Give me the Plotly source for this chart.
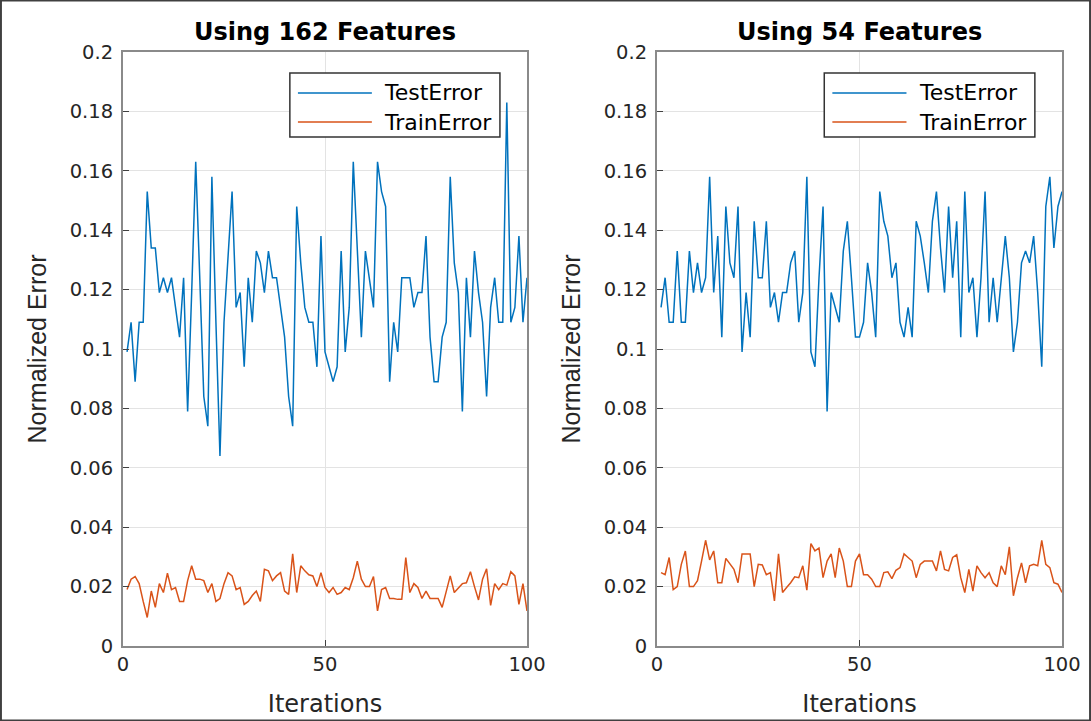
import plotly.graph_objects as go
from plotly.subplots import make_subplots

iterations = list(range(1, 101))

test_162 = [0.099, 0.109, 0.089, 0.109, 0.109, 0.153, 0.134, 0.134, 0.119, 0.124,
            0.119, 0.124, 0.114, 0.104, 0.124, 0.079, 0.119, 0.163, 0.124, 0.084,
            0.074, 0.158, 0.109, 0.064, 0.109, 0.133, 0.153, 0.114, 0.119, 0.094,
            0.124, 0.109, 0.133, 0.129, 0.119, 0.133, 0.124, 0.124, 0.114, 0.104,
            0.084, 0.074, 0.148, 0.129, 0.114, 0.109, 0.109, 0.094, 0.138, 0.099,
            0.094, 0.089, 0.094, 0.133, 0.099, 0.114, 0.163, 0.134, 0.104, 0.133,
            0.124, 0.114, 0.163, 0.153, 0.148, 0.089, 0.109, 0.099, 0.124, 0.124,
            0.124, 0.114, 0.119, 0.119, 0.138, 0.104, 0.089, 0.089, 0.104, 0.109,
            0.158, 0.129, 0.119, 0.079, 0.124, 0.104, 0.133, 0.119, 0.109, 0.084,
            0.114, 0.124, 0.109, 0.109, 0.183, 0.109, 0.114, 0.138, 0.109, 0.124]

train_162 = [0.019, 0.0225, 0.0234, 0.021, 0.015, 0.0096, 0.0185, 0.013, 0.021, 0.018,
             0.0245, 0.019, 0.0197, 0.015, 0.015, 0.022, 0.027, 0.0225, 0.0225, 0.022,
             0.018, 0.021, 0.015, 0.016, 0.021, 0.0247, 0.0236, 0.019, 0.0197, 0.014,
             0.015, 0.017, 0.0185, 0.015, 0.0258, 0.0253, 0.022, 0.0236, 0.0247, 0.0185,
             0.0174, 0.031, 0.018, 0.027, 0.0253, 0.024, 0.0236, 0.020, 0.0247, 0.0197,
             0.018, 0.0197, 0.0174, 0.018, 0.0197, 0.019, 0.023, 0.0286, 0.0225, 0.020,
             0.020, 0.0234, 0.0118, 0.019, 0.0197, 0.016, 0.016, 0.0157, 0.0157, 0.0298,
             0.018, 0.021, 0.0197, 0.016, 0.0185, 0.016, 0.016, 0.016, 0.013, 0.0185,
             0.0236, 0.018, 0.0197, 0.021, 0.0213, 0.025, 0.020, 0.0155, 0.0225, 0.026,
             0.0137, 0.021, 0.019, 0.021, 0.0205, 0.025, 0.0236, 0.014, 0.021, 0.0118]

test_54 = [0.114, 0.124, 0.109, 0.109, 0.133, 0.109, 0.109, 0.133, 0.119, 0.129,
           0.119, 0.124, 0.158, 0.119, 0.138, 0.104, 0.148, 0.129, 0.124, 0.148,
           0.099, 0.119, 0.104, 0.143, 0.124, 0.124, 0.143, 0.114, 0.119, 0.109,
           0.119, 0.119, 0.129, 0.133, 0.109, 0.119, 0.158, 0.099, 0.094, 0.124,
           0.148, 0.079, 0.119, 0.114, 0.109, 0.133, 0.143, 0.124, 0.104, 0.104,
           0.109, 0.129, 0.119, 0.104, 0.153, 0.143, 0.138, 0.124, 0.129, 0.109,
           0.104, 0.114, 0.104, 0.143, 0.138, 0.129, 0.119, 0.143, 0.153, 0.134,
           0.119, 0.148, 0.124, 0.143, 0.104, 0.153, 0.119, 0.124, 0.104, 0.124,
           0.153, 0.109, 0.124, 0.109, 0.124, 0.138, 0.124, 0.099, 0.109, 0.129,
           0.133, 0.129, 0.138, 0.119, 0.094, 0.148, 0.158, 0.134, 0.148, 0.153]

train_54 = [0.0247, 0.024, 0.0298, 0.019, 0.020, 0.0275, 0.032, 0.020, 0.020, 0.022,
            0.0286, 0.0356, 0.029, 0.032, 0.0213, 0.0213, 0.0295, 0.0275, 0.0258, 0.0213,
            0.031, 0.031, 0.031, 0.020, 0.0275, 0.0273, 0.024, 0.0247, 0.0152, 0.031,
            0.018, 0.0197, 0.0213, 0.0233, 0.023, 0.027, 0.0188, 0.0345, 0.032, 0.033,
            0.023, 0.0286, 0.031, 0.023, 0.033, 0.0286, 0.020, 0.020, 0.0286, 0.031,
            0.024, 0.024, 0.0225, 0.020, 0.020, 0.0247, 0.025, 0.0227, 0.0255, 0.0264,
            0.031, 0.0298, 0.0286, 0.023, 0.0275, 0.0286, 0.0286, 0.0286, 0.0253, 0.032,
            0.0258, 0.0253, 0.0298, 0.0307, 0.023, 0.018, 0.0258, 0.0185, 0.027, 0.0247,
            0.023, 0.0247, 0.0213, 0.020, 0.027, 0.024, 0.0334, 0.0169, 0.023, 0.028,
            0.0213, 0.027, 0.0275, 0.027, 0.0356, 0.0275, 0.0264, 0.0213, 0.0208, 0.018]

titles = ["Using 162 Features", "Using 54 Features"]
series_names = ["TestError", "TrainError"]
y_tickvals = [0, 0.02, 0.04, 0.06, 0.08, 0.1, 0.12, 0.14, 0.16, 0.18, 0.2]
y_ticktext = ["0", "0.02", "0.04", "0.06", "0.08", "0.1", "0.12", "0.14", "0.16", "0.18", "0.2"]
x_tickvals = [0, 50, 100]

BLUE = "#0072BD"
ORANGE = "#D95319"
WIDE = "DejaVu Sans, Verdana, sans-serif"
NARROW = "Liberation Sans, Arial, Helvetica, sans-serif"
TXT = "#262626"

W, H = 1091, 721
L, R, T, B = 123, 29, 52, 75
PW = W - L - R
PH = H - T - B

fig = make_subplots(rows=1, cols=2, horizontal_spacing=0.0)

data = [(test_162, train_162), (test_54, train_54)]
for c, (te, tr) in enumerate(data, start=1):
    fig.add_trace(go.Scatter(x=iterations, y=te, mode="lines", name=series_names[0],
                             line=dict(color=BLUE, width=1.5), showlegend=False), row=1, col=c)
    fig.add_trace(go.Scatter(x=iterations, y=tr, mode="lines", name=series_names[1],
                             line=dict(color=ORANGE, width=1.5), showlegend=False), row=1, col=c)

domains = [[0, (527 - 123) / PW], [(657 - 123) / PW, 1.0]]
axis_common = dict(showline=True, mirror=True, linecolor="#8a8a8a", linewidth=2,
                   ticks="inside", ticklen=6, tickcolor="#404040", tickwidth=1,
                   showgrid=True, gridcolor="#e3e3e3", gridwidth=1, zeroline=False,
                   automargin=False,
                   tickfont=dict(family=WIDE, size=19.5, color=TXT))
for i, ax in enumerate(["xaxis", "xaxis2"]):
    fig.layout[ax].update(domain=domains[i], range=[0, 100], tickvals=x_tickvals,
                          title=dict(text="Iterations", font=dict(family=WIDE, size=24, color=TXT), standoff=20),
                          **axis_common)
for i, ax in enumerate(["yaxis", "yaxis2"]):
    fig.layout[ax].update(range=[0, 0.2], tickvals=y_tickvals, ticktext=y_ticktext,
                          ticklabelstandoff=4,
                          title=dict(text="Normalized Error", font=dict(family=NARROW, size=25, color=TXT), standoff=16),
                          **axis_common)

# titles and legends
for i, (xr, yr) in enumerate([("x domain", "y domain"), ("x2 domain", "y2 domain")]):
    fig.add_annotation(text="<b>" + titles[i] + "</b>", xref=xr, yref="y domain", x=0.5, y=1.0,
                       yanchor="bottom", xanchor="center", showarrow=False, yshift=4,
                       font=dict(family=WIDE, size=24, color="#000000"))
    # legend box
    fig.add_shape(type="rect", xref=xr, yref=yr, x0=0.413, x1=0.933, y0=0.857, y1=0.9646,
                  line=dict(color="#333333", width=1.5), fillcolor="white", layer="above")
    for k, (name, col, yy) in enumerate([(series_names[0], BLUE, 0.931), (series_names[1], ORANGE, 0.882)]):
        fig.add_shape(type="line", xref=xr, yref=yr, x0=0.433, x1=0.616, y0=yy, y1=yy,
                      line=dict(color=col, width=1.5), layer="above")
        fig.add_annotation(text=name, xref=xr, yref=yr, x=0.641, y=yy, xanchor="left",
                           yanchor="middle", showarrow=False,
                           font=dict(family=WIDE, size=22, color="#000000"))

# outer frame
fig.add_shape(type="rect", xref="paper", yref="paper",
              x0=-L / PW + 0.001, x1=1 + R / PW - 0.001, y0=-B / PH + 0.001, y1=1 + T / PH - 0.001,
              line=dict(color="#404040", width=2), fillcolor="rgba(0,0,0,0)", layer="below")

fig.update_layout(width=W, height=H, margin=dict(l=L, r=R, t=T, b=B, autoexpand=False),
                  paper_bgcolor="white", plot_bgcolor="white", showlegend=False,
                  font=dict(family=WIDE, color=TXT))

fig.write_html("out.html")
